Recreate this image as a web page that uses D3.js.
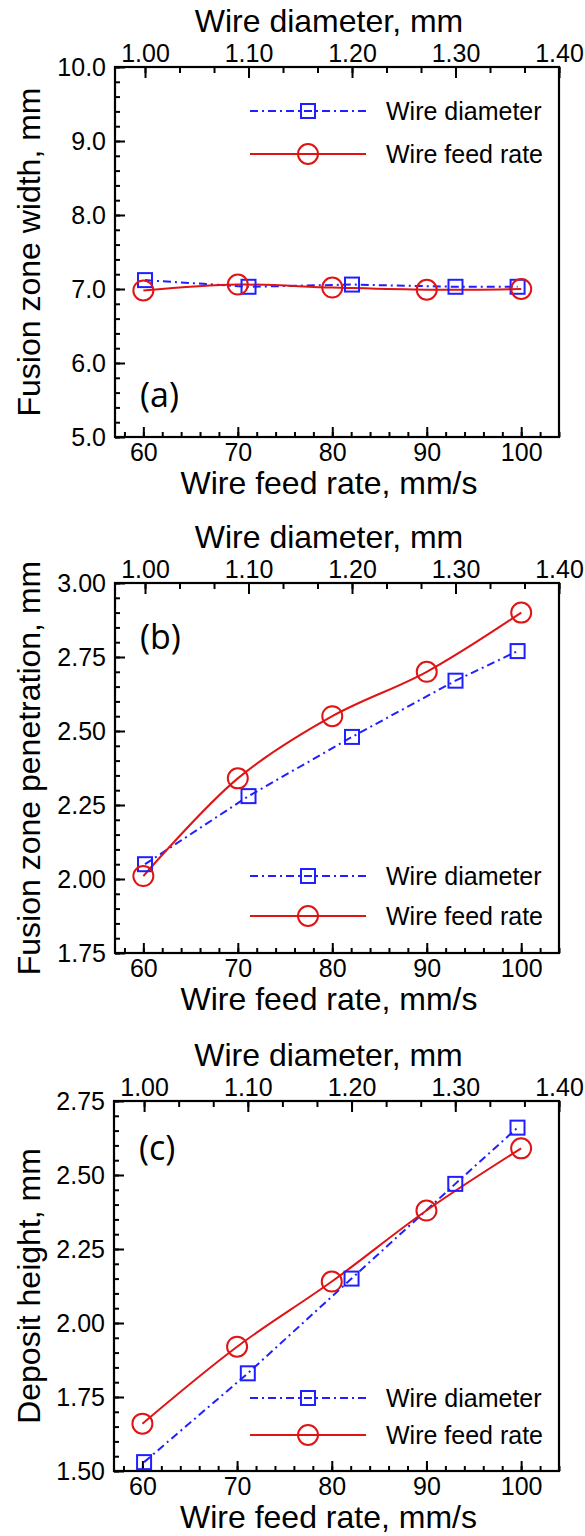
<!DOCTYPE html>
<html><head><meta charset="utf-8">
<script src="https://cdn.jsdelivr.net/npm/d3@7"></script>
<style>body{margin:0;background:#fff}</style>
</head><body>
<svg id="c" width="585" height="1536"></svg>
<script>
// ---- data ----
const feedRate = [60, 70, 80, 90, 100];
const wireDiam = [1.00, 1.10, 1.20, 1.30, 1.36];
const widthFeed = [6.98, 7.06, 7.02, 6.99, 7.00];
const widthDiam = [7.12, 7.03, 7.06, 7.03, 7.03];
const penFeed = [2.01, 2.34, 2.55, 2.70, 2.90];
const penDiam = [2.05, 2.28, 2.48, 2.67, 2.77];
const heightFeed = [1.66, 1.92, 2.14, 2.38, 2.59];
const heightDiam = [1.53, 1.83, 2.15, 2.47, 2.66];
const bottomTicks = [60, 70, 80, 90, 100];
const topTicks = [1.00, 1.10, 1.20, 1.30, 1.40];
const yTicksA = [5, 6, 7, 8, 9, 10];
const yTicksB = [1.75, 2.00, 2.25, 2.50, 2.75, 3.00];
const yTicksC = [1.50, 1.75, 2.00, 2.25, 2.50, 2.75];
const seriesNames = ["Wire diameter", "Wire feed rate"];
const panelLabels = ["(a)", "(b)", "(c)"];
const yTitles = ["Fusion zone width, mm", "Fusion zone penetration, mm", "Deposit height, mm"];

const BLUE = "#1f1fff", RED = "#e01414";
const FONT = "'Liberation Sans', Arial, sans-serif";

const panels = [
  {top: 67, left: 115, yDom: [5, 10], yTicks: yTicksA, yMinorStep: 0.2, fmt: d3.format(".1f"),
   feed: widthFeed, diam: widthDiam, legendY: 111, legendGap: 43, labelY: 395},
  {top: 583, left: 115, yDom: [1.75, 3.0], yTicks: yTicksB, yMinorStep: 0.05, fmt: d3.format(".2f"),
   feed: penFeed, diam: penDiam, legendY: 876, legendGap: 40, labelY: 637},
  {top: 1101, left: 114, yDom: [1.5, 2.75], yTicks: yTicksC, yMinorStep: 0.05, fmt: d3.format(".2f"),
   feed: heightFeed, diam: heightDiam, legendY: 1398, legendGap: 37, labelY: 1148}
];
const RIGHT = 559, H = 370;

const svg = d3.select("#c");

panels.forEach((p, i) => {
  const W = RIGHT - p.left;
  const g = svg.append("g").attr("transform", `translate(${p.left},${p.top})`);
  const x = d3.scaleLinear().domain([57, 104]).range([0, W]);
  const xt = d3.scaleLinear().domain([0.971, 1.40]).range([0, W]);
  const y = d3.scaleLinear().domain(p.yDom).range([H, 0]);

  // minor ticks
  const yMinor = d3.range(Math.round((p.yDom[1]-p.yDom[0])/p.yMinorStep)+1)
    .map(k => p.yDom[0] + k*p.yMinorStep);
  const xMinor = d3.range(58, 105, 2);
  const tMinor = d3.range(0, 13).map(k => 1 + k/30);

  const styleAxis = sel => {
    sel.select(".domain").remove();
    sel.selectAll("line").attr("stroke", "#000").attr("stroke-width", 2);
    sel.selectAll("text").attr("font-family", FONT).attr("font-size", 25).attr("fill", "#000");
  };

  g.append("g").call(d3.axisLeft(y).tickValues(yMinor).tickSize(-5).tickFormat("")).call(styleAxis);
  g.append("g").call(d3.axisLeft(y).tickValues(p.yTicks).tickSize(-10).tickPadding(9).tickFormat(p.fmt)).call(styleAxis);

  g.append("g").attr("transform", `translate(0,${H})`)
    .call(d3.axisBottom(x).tickValues(xMinor).tickSize(-5).tickFormat("")).call(styleAxis);
  g.append("g").attr("transform", `translate(0,${H})`)
    .call(d3.axisBottom(x).tickValues(bottomTicks).tickSize(-10).tickPadding(6).tickFormat(d3.format("d"))).call(styleAxis);

  g.append("g").call(d3.axisTop(xt).tickValues(tMinor).tickSize(-6).tickFormat("")).call(styleAxis);
  g.append("g").call(d3.axisTop(xt).tickValues(topTicks).tickSize(-11).tickPadding(5).tickFormat(d3.format(".2f"))).call(styleAxis);

  // frame
  g.append("rect").attr("x", 0).attr("y", 0).attr("width", W).attr("height", H)
    .attr("fill", "none").attr("stroke", "#000").attr("stroke-width", 2.2);

  // titles
  g.append("text").attr("x", W/2 - 8).attr("y", -35).attr("text-anchor", "middle")
    .attr("font-family", FONT).attr("font-size", 32).text("Wire diameter, mm");
  g.append("text").attr("x", W/2 - 8).attr("y", H + 57).attr("text-anchor", "middle")
    .attr("font-family", FONT).attr("font-size", 32).text("Wire feed rate, mm/s");
  g.append("text").attr("transform", `translate(${-p.left + 40},${H/2}) rotate(-90)`)
    .attr("text-anchor", "middle").attr("font-family", FONT).attr("font-size", 32).text(yTitles[i]);

  // panel label
  svg.append("text").attr("x", p.left + 25).attr("y", p.labelY + 12)
    .attr("font-family", "'Open Sans', sans-serif").attr("font-size", 34).text(panelLabels[i]);

  // series
  const diamPts = wireDiam.map((d, k) => [xt(d), y(p.diam[k])]);
  const feedPts = feedRate.map((d, k) => [x(d), y(p.feed[k])]);
  g.append("path").attr("d", d3.line().curve(d3.curveLinear)(diamPts))
    .attr("fill", "none").attr("stroke", BLUE).attr("stroke-width", 2).attr("stroke-dasharray", "8,4,2,4");
  g.append("path").attr("d", d3.line().curve(d3.curveCatmullRom.alpha(0.5))(feedPts))
    .attr("fill", "none").attr("stroke", RED).attr("stroke-width", 2);
  g.selectAll(null).data(diamPts).join("rect")
    .attr("x", d => d[0]-7).attr("y", d => d[1]-7).attr("width", 14).attr("height", 14)
    .attr("fill", "none").attr("stroke", BLUE).attr("stroke-width", 2);
  g.selectAll(null).data(feedPts).join("circle")
    .attr("cx", d => d[0]).attr("cy", d => d[1]).attr("r", 10)
    .attr("fill", "none").attr("stroke", RED).attr("stroke-width", 2);

  // legend
  const lg = svg.append("g");
  const ly1 = p.legendY, ly2 = p.legendY + p.legendGap;
  lg.append("line").attr("x1", 250).attr("x2", 366).attr("y1", ly1).attr("y2", ly1)
    .attr("stroke", BLUE).attr("stroke-width", 2).attr("stroke-dasharray", "8,4,2,4");
  lg.append("rect").attr("x", 308-7).attr("y", ly1-7).attr("width", 14).attr("height", 14)
    .attr("fill", "none").attr("stroke", BLUE).attr("stroke-width", 2);
  lg.append("line").attr("x1", 250).attr("x2", 366).attr("y1", ly2).attr("y2", ly2)
    .attr("stroke", RED).attr("stroke-width", 2);
  lg.append("circle").attr("cx", 308).attr("cy", ly2).attr("r", 10)
    .attr("fill", "none").attr("stroke", RED).attr("stroke-width", 2);
  lg.append("text").attr("x", 386).attr("y", ly1 + 9).attr("font-family", FONT).attr("font-size", 25).text(seriesNames[0]);
  lg.append("text").attr("x", 386).attr("y", ly2 + 9).attr("font-family", FONT).attr("font-size", 25).text(seriesNames[1]);
});
</script>
</body></html>
